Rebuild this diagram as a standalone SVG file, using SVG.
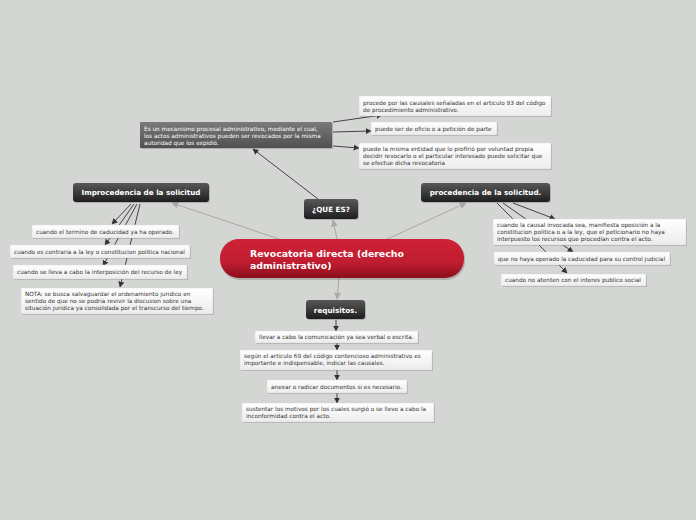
<svg xmlns="http://www.w3.org/2000/svg" width="696" height="520" viewBox="0 0 696 520">
<style>
.t{font-family:"DejaVu Sans","Verdana",sans-serif;font-size:5.75px;fill:#333}
.tw{font-family:"DejaVu Sans","Verdana",sans-serif;font-size:5.75px;fill:#fff}
.nl{font-family:"DejaVu Sans","Verdana",sans-serif;font-size:7.2px;font-weight:bold;fill:#fff;text-anchor:middle}
.ml{font-family:"DejaVu Sans","Verdana",sans-serif;font-size:9.4px;font-weight:bold;fill:#fff}
.box{fill:url(#gw);stroke:#d8d8d8;stroke-width:0.5}
.dk{fill:url(#gd)}
.sh{fill:#000;opacity:0.18}
.lc{stroke:#a9aaa8;stroke-width:1;fill:none;marker-end:url(#al)}
.dc{stroke:#333;stroke-width:0.9;fill:none;marker-end:url(#ad)}
</style>
<defs>
<linearGradient id="gw" x1="0" y1="0" x2="0" y2="1"><stop offset="0" stop-color="#ffffff"/><stop offset="1" stop-color="#ececec"/></linearGradient>
<linearGradient id="gd" x1="0" y1="0" x2="0" y2="1"><stop offset="0" stop-color="#585858"/><stop offset="1" stop-color="#1e1e1e"/></linearGradient>
<linearGradient id="gg" x1="0" y1="0" x2="0" y2="1"><stop offset="0" stop-color="#7a7a7a"/><stop offset="1" stop-color="#505050"/></linearGradient>
<linearGradient id="gr" x1="0" y1="0" x2="0" y2="1"><stop offset="0" stop-color="#cf2136"/><stop offset="0.6" stop-color="#c01d30"/><stop offset="1" stop-color="#8a0f1b"/></linearGradient>
<marker id="al" viewBox="0 0 10 10" refX="9" refY="5" markerWidth="7" markerHeight="7" orient="auto" markerUnits="userSpaceOnUse"><path d="M0,0 L10,5 L0,10 z" fill="#a9aaa8"/></marker>
<marker id="ad" viewBox="0 0 10 10" refX="9" refY="5" markerWidth="6" markerHeight="6" orient="auto" markerUnits="userSpaceOnUse"><path d="M0,0 L10,5 L0,10 z" fill="#333"/></marker>
</defs>
<rect width="696" height="520" fill="#d4d6d3"/>

<g id="connectors">
<line class="lc" x1="337" y1="239" x2="333" y2="220"/>
<line class="lc" x1="282" y1="240" x2="172" y2="203"/>
<line class="lc" x1="385" y1="240" x2="466" y2="203"/>
<line class="lc" x1="339" y1="278" x2="337" y2="299"/>
<line class="dc" x1="318" y1="199" x2="253" y2="149"/>
<line class="dc" x1="333" y1="122" x2="382" y2="115"/>
<line class="dc" x1="333" y1="132" x2="371" y2="131"/>
<line class="dc" x1="333" y1="146" x2="359" y2="148"/>
<line class="dc" x1="131" y1="204" x2="112" y2="224"/>
<line class="dc" x1="134" y1="204" x2="105" y2="245"/>
<line class="dc" x1="137" y1="204" x2="103" y2="266"/>
<line class="dc" x1="140" y1="204" x2="120" y2="287"/>
<line class="dc" x1="497" y1="203" x2="567" y2="273"/>
<line class="dc" x1="503" y1="203" x2="573" y2="252"/>
<line class="dc" x1="513" y1="203" x2="555" y2="219"/>
<line class="dc" x1="336" y1="320" x2="336" y2="331"/>
<line class="dc" x1="337" y1="343" x2="337" y2="350"/>
<line class="dc" x1="337" y1="370" x2="337" y2="380"/>
<line class="dc" x1="337" y1="393" x2="337" y2="403"/>
</g>

<g id="main">
<rect class="sh" x="221" y="240" width="244" height="40" rx="19"/>
<rect x="220" y="239" width="244" height="39" rx="19" fill="url(#gr)"/>
<text class="ml" x="250" y="257">Revocatoria directa (derecho</text>
<text class="ml" x="250" y="268.5">administrativo)</text>
</g>

<g id="quees">
<rect class="sh" x="305" y="200" width="54" height="20" rx="3"/>
<rect class="dk" x="304" y="199" width="54" height="20" rx="3"/>
<text class="nl" x="331" y="212">¿QUE ES?</text>
</g>

<g id="improcedencia">
<rect class="sh" x="74" y="184" width="136" height="19" rx="3"/>
<rect class="dk" x="73" y="183" width="136" height="19" rx="3"/>
<text class="nl" x="141" y="195">Improcedencia de la solicitud</text>
</g>

<g id="procedencia">
<rect class="sh" x="422" y="184" width="129" height="19" rx="3"/>
<rect class="dk" x="421" y="183" width="129" height="19" rx="3"/>
<text class="nl" x="485.5" y="195">procedencia de la solicitud.</text>
</g>

<g id="requisitos">
<rect class="sh" x="307" y="301" width="59" height="19" rx="3"/>
<rect class="dk" x="306" y="300" width="59" height="19" rx="3"/>
<text class="nl" x="335.5" y="313">requisitos.</text>
</g>

<g id="definicion">
<rect class="sh" x="141" y="123" width="192" height="26" rx="1"/>
<rect x="140" y="122" width="192" height="26" rx="1" fill="url(#gg)"/>
<text class="tw" x="144" y="130.5">Es un mecanismo procesal administrativo, mediante el cual,</text>
<text class="tw" x="144" y="137.5">los actos administrativos pueden ser revocados por la misma</text>
<text class="tw" x="144" y="144.5">autoridad que los expidió.</text>
</g>

<g id="q1">
<rect class="sh" x="360" y="97" width="192" height="20" rx="1"/>
<rect class="box" x="359" y="96" width="192" height="20" rx="1"/>
<text class="t" x="363" y="104.5">procede por las causales señaladas en el articulo 93 del código</text>
<text class="t" x="363" y="111.5">de procedimiento administrativo.</text>
</g>

<g id="q2">
<rect class="sh" x="372" y="123" width="126" height="13" rx="1"/>
<rect class="box" x="371" y="122" width="126" height="13" rx="1"/>
<text class="t" x="375" y="130.5">puede ser de oficio o a petición de parte</text>
</g>

<g id="q3">
<rect class="sh" x="360" y="144" width="192" height="26" rx="1"/>
<rect class="box" x="359" y="143" width="192" height="26" rx="1"/>
<text class="t" x="363" y="150.5">puede la misma entidad que lo profirió por voluntad propia</text>
<text class="t" x="363" y="157.5">decidir revocarlo o el particular interesado puede solicitar que</text>
<text class="t" x="363" y="164.5">se efectue dicha revocatoria</text>
</g>

<g id="i1">
<rect class="sh" x="33" y="226" width="147" height="13" rx="1"/>
<rect class="box" x="32" y="225" width="147" height="13" rx="1"/>
<text class="t" x="36" y="233.5">cuando el termino de caducidad ya ha operado.</text>
</g>

<g id="i2">
<rect class="sh" x="11" y="246" width="180" height="13" rx="1"/>
<rect class="box" x="10" y="245" width="180" height="13" rx="1"/>
<text class="t" x="14" y="253.5">cuando es contraria a la ley o constitucion politica nacional</text>
</g>

<g id="i3">
<rect class="sh" x="14" y="266" width="174" height="14" rx="1"/>
<rect class="box" x="13" y="265" width="174" height="14" rx="1"/>
<text class="t" x="17" y="273.5">cuando se lleva a cabo la interposición del recurso de ley</text>
</g>

<g id="i4">
<rect class="sh" x="22" y="289" width="192" height="26" rx="1"/>
<rect class="box" x="21" y="288" width="192" height="26" rx="1"/>
<text class="t" x="25" y="295.5">NOTA: se busca salvaguardar el ordenamiento juridico en</text>
<text class="t" x="25" y="302.5">sentido de que no se podria revivir la discusion sobre una</text>
<text class="t" x="25" y="309.5">situación juridica ya consolidada por el transcurso del tiempo.</text>
</g>

<g id="p1">
<rect class="sh" x="494" y="220" width="193" height="26" rx="1"/>
<rect class="box" x="493" y="219" width="193" height="26" rx="1"/>
<text class="t" x="497" y="226.5">cuando la causal invocada sea, manifiesta oposición a la</text>
<text class="t" x="497" y="233.5">constitucion politica o a la ley, que el peticionario no haya</text>
<text class="t" x="497" y="240.5">interpuesto los recursos que procedían contra el acto.</text>
</g>

<g id="p2">
<rect class="sh" x="495" y="253" width="176" height="13" rx="1"/>
<rect class="box" x="494" y="252" width="176" height="13" rx="1"/>
<text class="t" x="498" y="260.5">que no haya operado la caducidad para su control judicial</text>
</g>

<g id="p3">
<rect class="sh" x="502" y="275" width="145" height="12" rx="1"/>
<rect class="box" x="501" y="274" width="145" height="12" rx="1"/>
<text class="t" x="505" y="282">cuando no atenten con el interes publico social</text>
</g>

<g id="r1">
<rect class="sh" x="256" y="332" width="163" height="12" rx="1"/>
<rect class="box" x="255" y="331" width="163" height="12" rx="1"/>
<text class="t" x="259" y="339">llevar a cabo la comunicación ya sea verbal o escrita.</text>
</g>

<g id="r2">
<rect class="sh" x="241" y="351" width="192" height="20" rx="1"/>
<rect class="box" x="240" y="350" width="192" height="20" rx="1"/>
<text class="t" x="244" y="357.5">según el articulo 69 del código contencioso administrativo es</text>
<text class="t" x="244" y="364.5">importante e indispensable, indicar las causales.</text>
</g>

<g id="r3">
<rect class="sh" x="268" y="381" width="140" height="13" rx="1"/>
<rect class="box" x="267" y="380" width="140" height="13" rx="1"/>
<text class="t" x="271" y="388.5">anexar o radicar documentos si es necesario.</text>
</g>

<g id="r4">
<rect class="sh" x="243" y="404" width="192" height="19" rx="1"/>
<rect class="box" x="242" y="403" width="192" height="19" rx="1"/>
<text class="t" x="246" y="410.5">sustentar los motivos por los cuales surgió o se llevo a cabo la</text>
<text class="t" x="246" y="417.5">inconformidad contra el acto.</text>
</g>
</svg>
